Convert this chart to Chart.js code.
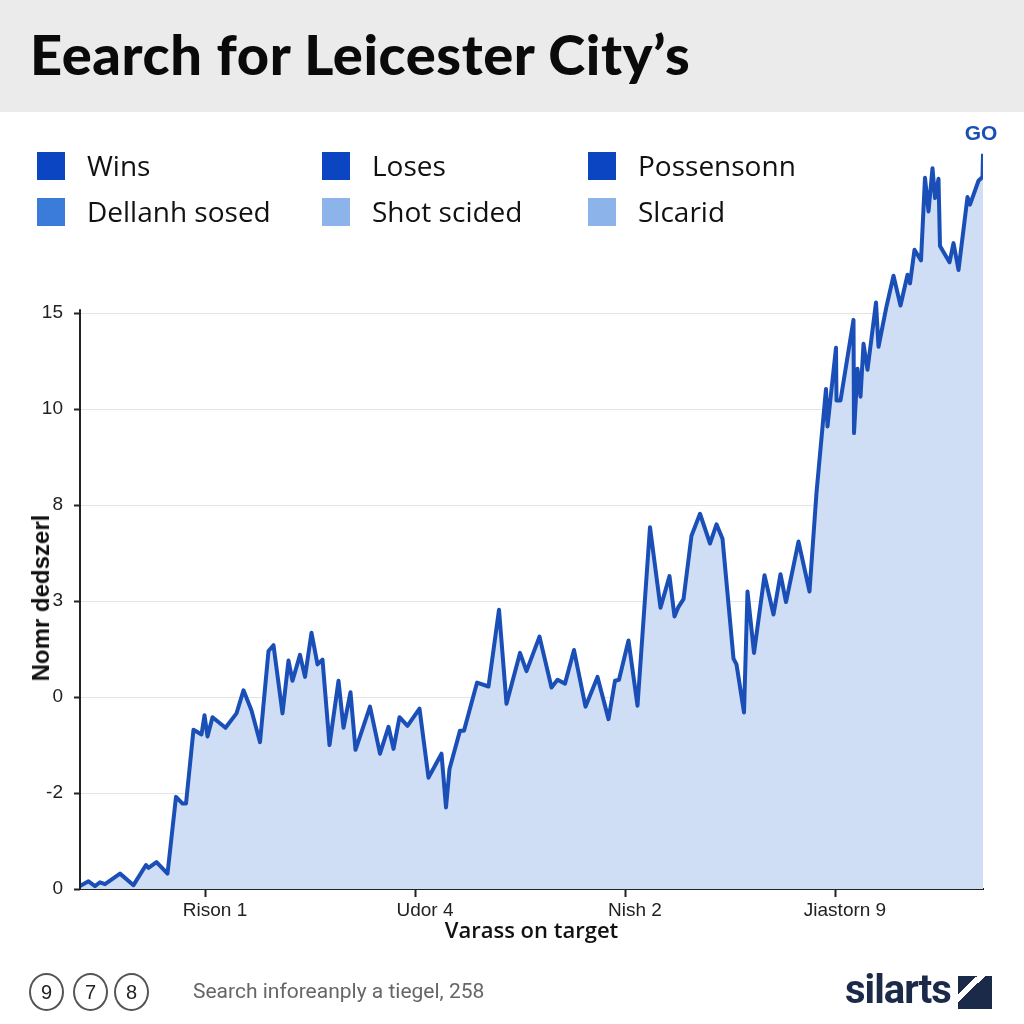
<!DOCTYPE html>
<html>
<head>
<meta charset="utf-8">
<script src="https://cdn.jsdelivr.net/npm/chart.js"></script>
<style>
  body { margin: 0; width: 1024px; height: 1024px; position: relative; background: #fff; overflow: hidden; }
  #titlebar { position: absolute; left: 0; top: 0; width: 1024px; height: 112px; background: #ebebeb; }
  #titlebar h1 { position: absolute; left: 30px; top: 20px; margin: 0; font: 900 56px Lato, sans-serif; color: #0a0a0a; line-height: normal; white-space: nowrap; letter-spacing: 0.6px; }
  #line-chart { position: absolute; left: 0; top: 0; }
  .legend-item { position: absolute; height: 28px; }
  .legend-item .box { position: absolute; left: 0; top: 0; width: 28px; height: 28px; }
  .legend-item .txt { position: absolute; left: 50px; top: -6px; font: 28px "Open Sans", sans-serif; color: #111; white-space: nowrap; }
  #ytitle { position: absolute; left: 41px; top: 598px; transform: translate(-50%, -50%) rotate(-90deg); font: bold 24px "Liberation Sans", sans-serif; color: #111; white-space: nowrap; }
  .circ { position: absolute; top: 973px; width: 31px; height: 34px; border: 2px solid #555; border-radius: 50%; font: 20px "Liberation Sans", sans-serif; color: #222; text-align: center; line-height: 34px; }
  #source { position: absolute; left: 193px; top: 979px; font: 21px "Liberation Sans Narrow", "Roboto", sans-serif; color: #666; white-space: nowrap; }
  #brand { position: absolute; left: 845px; top: 966px; font: bold 40px "Liberation Sans Narrow", "Roboto", sans-serif; color: #1c2a4a; letter-spacing: -1px; }
  #logo { position: absolute; left: 958px; top: 976px; width: 34px; height: 33px; background: linear-gradient(to bottom right, #1c2a4a 0 28%, #fff 28% 40%, #1c2a4a 40%); }
</style>
</head>
<body>
<div id="titlebar"><h1 id="title"></h1></div>
<canvas id="line-chart" width="1024" height="1024"></canvas>
<div id="legend"></div>
<div id="ytitle"></div>
<div id="footer"></div>
<script>
var titleText = "Eearch for Leicester City\u2019s";
var legendLabels = ["Wins", "Loses", "Possensonn", "Dellanh sosed", "Shot scided", "Slcarid"];
var legendColors = ["#0b45c2", "#0b45c2", "#0b45c2", "#3b7bd9", "#8db4ea", "#8db4ea"];

var yTickLabels = ["0", "-2", "0", "3", "8", "10", "15"];
var xTickValues = [25, 67, 109, 151];
var xTickLabels = ["Rison 1", "Udor 4", "Nish 2", "Jiastorn 9"];
var xTitle = "Varass on target";
var yTitle = "Nomr dedszerl";
var endLabel = "GO";

var footerBadges = ["9", "7", "8"];
var footerText = "Search inforeanply a tiegel, 258";
var brandText = "silarts";

// season progress vs. value
var xValues = [0, 1.7, 3.0, 4.0, 5.0, 8.0, 10.7, 13.2, 13.7, 15.3,
  17.5, 19.2, 20.5, 21.2, 22.7, 24.3, 24.9, 25.5, 26.5, 29.1,
  31.3, 32.7, 34.3, 36.0, 37.7, 38.7, 40.5, 41.7, 42.5, 44.0,
  45.0, 46.3, 47.5, 48.5, 49.9, 51.7, 52.7, 54.1, 55.1, 58.0,
  60.0, 61.7, 62.7, 63.9, 65.5, 67.9, 69.7, 72.3, 73.2, 73.9,
  76.0, 76.8, 79.4, 81.7, 83.8, 85.3, 88.0, 89.3, 91.9, 94.3,
  95.5, 97.0, 98.8, 101.1, 103.5, 105.7, 107.0, 107.8, 109.7, 111.5,
  114.0, 116.1, 117.9, 118.9, 119.7, 120.7, 122.3, 124.0, 126.0, 127.3,
  128.5, 130.7, 131.3, 132.8, 133.5, 134.8, 136.9, 138.7, 140.1, 141.2,
  143.7, 145.9, 147.3, 149.2, 149.5, 151.2, 151.3, 152.1, 154.7, 154.8,
  155.5, 156.1, 156.7, 157.5, 159.2, 159.7, 161.3, 162.7, 164.1, 165.5,
  166.0, 166.9, 168.2, 169.0, 169.7, 170.5, 171.0, 171.7, 172.0, 173.9,
  174.7, 175.7, 177.5, 178.0, 179.7, 180.5, 180.6];
var yValues = [0.03, 0.08, 0.03, 0.07, 0.05, 0.16, 0.04, 0.25, 0.22, 0.28,
  0.16, 0.96, 0.89, 0.89, 1.66, 1.61, 1.81, 1.59, 1.79, 1.68,
  1.83, 2.07, 1.86, 1.53, 2.48, 2.54, 1.83, 2.38, 2.17, 2.44,
  2.21, 2.67, 2.34, 2.39, 1.50, 2.17, 1.68, 2.05, 1.45, 1.90,
  1.41, 1.69, 1.46, 1.79, 1.70, 1.88, 1.16, 1.41, 0.85, 1.25,
  1.65, 1.65, 2.15, 2.11, 2.91, 1.93, 2.46, 2.27, 2.63, 2.10,
  2.18, 2.14, 2.49, 1.90, 2.21, 1.77, 2.17, 2.18, 2.59, 1.91,
  3.77, 2.93, 3.26, 2.84, 2.94, 3.02, 3.68, 3.91, 3.60, 3.80,
  3.65, 2.40, 2.34, 1.84, 3.10, 2.46, 3.27, 2.86, 3.28, 2.99,
  3.62, 3.10, 4.13, 5.21, 4.82, 5.64, 5.09, 5.09, 5.93, 4.75,
  5.42, 5.13, 5.68, 5.41, 6.11, 5.65, 6.07, 6.39, 6.08, 6.40,
  6.31, 6.66, 6.55, 7.41, 7.06, 7.51, 7.20, 7.40, 6.70, 6.53,
  6.73, 6.45, 7.21, 7.13, 7.38, 7.42, 7.66];

document.getElementById("title").textContent = titleText;
document.getElementById("ytitle").textContent = yTitle;

var legendCols = [37, 322, 588];
var legendRows = [152, 198];
var legend = document.getElementById("legend");
for (var i = 0; i < legendLabels.length; i++) {
    var item = document.createElement("div");
    item.className = "legend-item";
    item.style.left = legendCols[i % 3] + "px";
    item.style.top = legendRows[Math.floor(i / 3)] + "px";
    item.innerHTML = '<div class="box" style="background:' + legendColors[i] + '"></div><div class="txt"></div>';
    item.querySelector(".txt").textContent = legendLabels[i];
    legend.appendChild(item);
}

var footer = document.getElementById("footer");
var badgeX = [29, 73, 114];
footerBadges.forEach(function(b, i) {
    var c = document.createElement("div");
    c.className = "circ";
    c.style.left = badgeX[i] + "px";
    c.textContent = b;
    footer.appendChild(c);
});
var src = document.createElement("div");
src.id = "source";
src.textContent = footerText;
footer.appendChild(src);
var brand = document.createElement("div");
brand.id = "brand";
brand.textContent = brandText;
footer.appendChild(brand);
var logo = document.createElement("div");
logo.id = "logo";
footer.appendChild(logo);

var points = [];
for (i = 0; i < xValues.length; i++) {
    points.push({ x: xValues[i], y: yValues[i] });
}

// y axis line only runs from the top tick down to the x axis
var axisLinePlugin = {
    id: "axisLine",
    afterDraw: function(chart) {
        var ctx = chart.ctx;
        var y = chart.scales.y;
        ctx.save();
        ctx.strokeStyle = "#222";
        ctx.lineWidth = 2;
        ctx.beginPath();
        ctx.moveTo(chart.chartArea.left, y.getPixelForValue(yTickLabels.length - 1) - 4);
        ctx.lineTo(chart.chartArea.left, y.getPixelForValue(0));
        ctx.stroke();
        ctx.restore();
    }
};

var endLabelPlugin = {
    id: "endLabel",
    afterDatasetsDraw: function(chart) {
        var meta = chart.getDatasetMeta(0);
        var last = meta.data[meta.data.length - 1];
        var ctx = chart.ctx;
        ctx.save();
        ctx.font = "bold 21px 'Liberation Sans', sans-serif";
        ctx.fillStyle = "#1b4fb8";
        ctx.textAlign = "center";
        ctx.textBaseline = "middle";
        ctx.fillText(endLabel, last.x - 2, last.y - 20);
        ctx.restore();
    }
};

new Chart(document.getElementById("line-chart"), {
    type: "line",
    data: {
        datasets: [{
            data: points,
            borderColor: "#1b4fb8",
            borderWidth: 4,
            backgroundColor: "#cfdef5",
            fill: "origin",
            pointRadius: 0,
            tension: 0,
            borderJoinStyle: "round"
        }]
    },
    options: {
        responsive: false,
        animation: false,
        devicePixelRatio: 1,
        layout: { padding: { top: 150, left: 0, right: 41, bottom: 75 } },
        plugins: { legend: { display: false }, tooltip: { enabled: false } },
        scales: {
            x: {
                type: "linear",
                min: 0,
                max: 180.6,
                afterFit: function(s) { s.height = 60; },
                afterBuildTicks: function(s) {
                    s.ticks = xTickValues.map(function(v) { return { value: v }; });
                },
                ticks: {
                    callback: function(v, idx) { return xTickLabels[idx]; },
                    font: { family: "'Liberation Sans', sans-serif", size: 19 },
                    color: "#222",
                    padding: 2,
                    labelOffset: 10,
                    maxRotation: 0
                },
                grid: { drawOnChartArea: false, tickLength: 8, tickColor: "#222", tickWidth: 2 },
                border: { color: "#222", width: 2 },
                title: {
                    display: true,
                    text: xTitle,
                    font: { family: "'Open Sans', sans-serif", size: 22, weight: "600" },
                    color: "#111",
                    padding: { top: 0, bottom: 4 }
                }
            },
            y: {
                type: "linear",
                min: 0,
                max: 7.7,
                afterFit: function(s) { s.width = 80; },
                afterBuildTicks: function(s) {
                    s.ticks = yTickLabels.map(function(l, idx) { return { value: idx }; });
                },
                ticks: {
                    callback: function(v) { return yTickLabels[v]; },
                    font: { family: "'Liberation Sans', sans-serif", size: 19 },
                    color: "#222",
                    padding: 11
                },
                grid: { color: "#e4e4e4", tickLength: 6, tickColor: "#222", tickWidth: 2 },
                border: { display: false }
            }
        }
    },
    plugins: [axisLinePlugin, endLabelPlugin]
});
</script>
</body>
</html>
